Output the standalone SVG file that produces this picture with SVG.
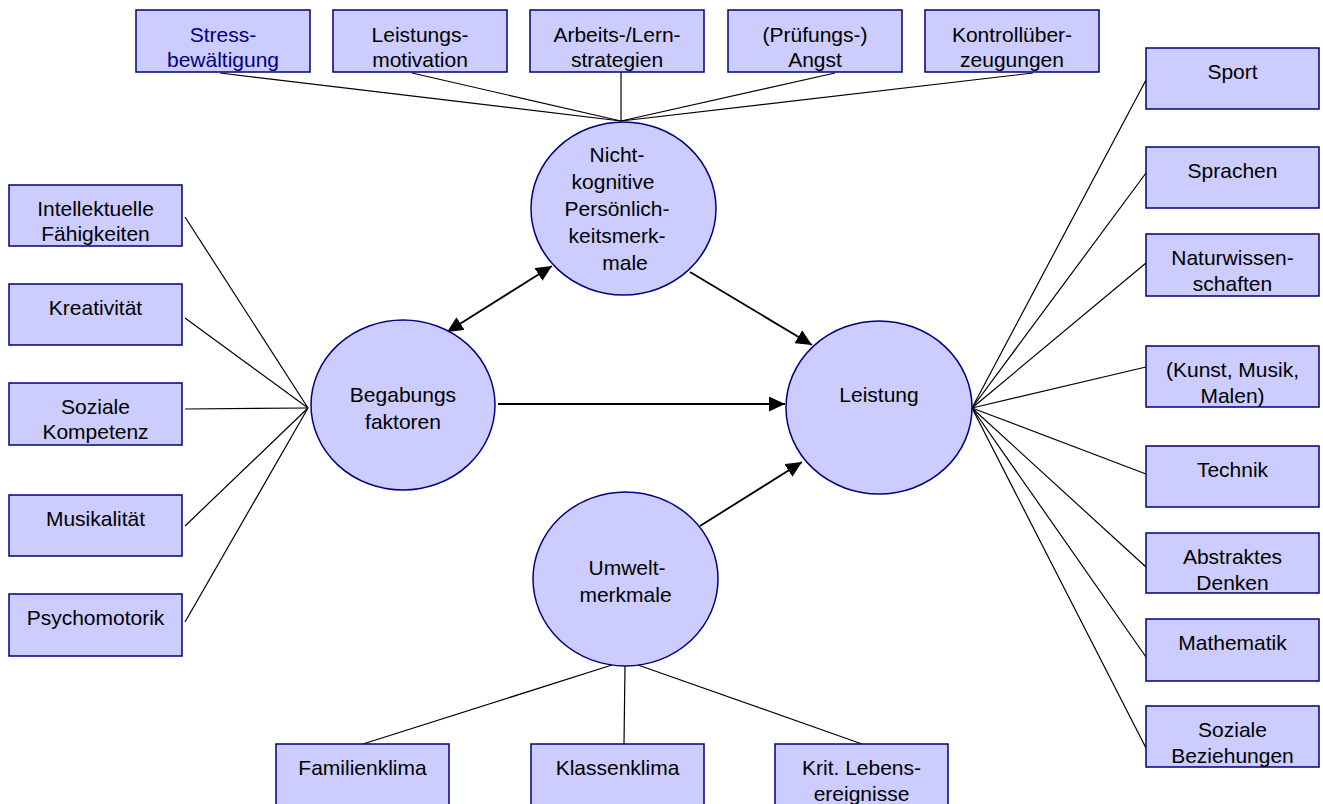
<svg xmlns="http://www.w3.org/2000/svg" width="1323" height="804" viewBox="0 0 1323 804">
<style>
.box{fill:#CCCCFF;stroke:#000080;stroke-width:1.5}
.ell{fill:#CCCCFF;stroke:#000080;stroke-width:1.5}
text{font-family:"Liberation Sans",Arial,sans-serif;font-size:21px;fill:#000;text-anchor:middle}
.navy{fill:#000080}
.ln{stroke:#000;stroke-width:1.2;fill:none}
.ar{stroke:#000;stroke-width:1.8;fill:none}
</style>
<defs>
<marker id="ah" markerUnits="userSpaceOnUse" markerWidth="17" markerHeight="15" refX="16" refY="7.5" orient="auto-start-reverse" viewBox="0 0 17 15">
<path d="M0,0 L16,7.5 L0,15 z" fill="#000"/>
</marker>
</defs>
<rect width="1323" height="804" fill="#fff"/>
<g id="connectors">
<line class="ln" x1="220" y1="73" x2="621" y2="121"/>
<line class="ln" x1="412" y1="73" x2="621" y2="121"/>
<line class="ln" x1="621" y1="72" x2="621" y2="121"/>
<line class="ln" x1="835" y1="73" x2="621" y2="121"/>
<line class="ln" x1="1033" y1="73" x2="621" y2="121"/>
<line class="ln" x1="185" y1="217" x2="308" y2="408"/>
<line class="ln" x1="185" y1="318" x2="308" y2="408"/>
<line class="ln" x1="185" y1="409" x2="308" y2="408"/>
<line class="ln" x1="185" y1="526" x2="308" y2="408"/>
<line class="ln" x1="185" y1="622" x2="308" y2="408"/>
<line class="ln" x1="1146" y1="80" x2="972" y2="408"/>
<line class="ln" x1="1146" y1="173" x2="972" y2="408"/>
<line class="ln" x1="1146" y1="263" x2="972" y2="408"/>
<line class="ln" x1="1146" y1="367" x2="972" y2="408"/>
<line class="ln" x1="1146" y1="474" x2="972" y2="408"/>
<line class="ln" x1="1146" y1="567" x2="972" y2="408"/>
<line class="ln" x1="1146" y1="657" x2="972" y2="408"/>
<line class="ln" x1="1146" y1="748" x2="972" y2="408"/>
<line class="ln" x1="363" y1="744" x2="612" y2="665"/>
<line class="ln" x1="624" y1="744" x2="625" y2="666"/>
<line class="ln" x1="862" y1="744" x2="638" y2="665"/>
<line class="ar" x1="498" y1="404" x2="785" y2="404" marker-end="url(#ah)"/>
<line class="ar" x1="447" y1="332" x2="552" y2="266" marker-start="url(#ah)" marker-end="url(#ah)"/>
<line class="ar" x1="690" y1="272" x2="812" y2="345" marker-end="url(#ah)"/>
<line class="ar" x1="700" y1="526" x2="802" y2="462" marker-end="url(#ah)"/>
</g>
<g id="n-stress"><rect class="box" x="136" y="10" width="174" height="62"/><text class="navy" x="223" y="42">Stress-</text><text class="navy" x="223" y="67">bewältigung</text></g>
<g id="n-leistungsmotivation"><rect class="box" x="333" y="10" width="174" height="62"/><text x="420" y="42">Leistungs-</text><text x="420" y="67">motivation</text></g>
<g id="n-arbeits"><rect class="box" x="530" y="10" width="174" height="62"/><text x="617" y="42">Arbeits-/Lern-</text><text x="617" y="67">strategien</text></g>
<g id="n-angst"><rect class="box" x="728" y="10" width="174" height="62"/><text x="815" y="42">(Prüfungs-)</text><text x="815" y="67">Angst</text></g>
<g id="n-kontroll"><rect class="box" x="925" y="10" width="174" height="62"/><text x="1012" y="42">Kontrollüber-</text><text x="1012" y="67">zeugungen</text></g>
<g id="n-intellekt"><rect class="box" x="9" y="185" width="173" height="61"/><text x="95.5" y="216">Intellektuelle</text><text x="95.5" y="241">Fähigkeiten</text></g>
<g id="n-kreativ"><rect class="box" x="9" y="284" width="173" height="61"/><text x="95.5" y="315">Kreativität</text></g>
<g id="n-sozkomp"><rect class="box" x="9" y="383" width="173" height="62"/><text x="95.5" y="414">Soziale</text><text x="95.5" y="439">Kompetenz</text></g>
<g id="n-musik"><rect class="box" x="9" y="495" width="173" height="61"/><text x="95.5" y="526">Musikalität</text></g>
<g id="n-psycho"><rect class="box" x="9" y="594" width="173" height="62"/><text x="95.5" y="625">Psychomotorik</text></g>
<g id="n-sport"><rect class="box" x="1146" y="48" width="173" height="61"/><text x="1232.5" y="79">Sport</text></g>
<g id="n-sprachen"><rect class="box" x="1146" y="147" width="173" height="61"/><text x="1232.5" y="178">Sprachen</text></g>
<g id="n-natur"><rect class="box" x="1146" y="234" width="173" height="62"/><text x="1232.5" y="265">Naturwissen-</text><text x="1232.5" y="291">schaften</text></g>
<g id="n-kunst"><rect class="box" x="1146" y="346" width="173" height="61"/><text x="1232.5" y="377">(Kunst, Musik,</text><text x="1232.5" y="403">Malen)</text></g>
<g id="n-technik"><rect class="box" x="1146" y="446" width="173" height="61"/><text x="1232.5" y="477">Technik</text></g>
<g id="n-abstrakt"><rect class="box" x="1146" y="533" width="173" height="60"/><text x="1232.5" y="564">Abstraktes</text><text x="1232.5" y="590">Denken</text></g>
<g id="n-mathe"><rect class="box" x="1146" y="619" width="173" height="62"/><text x="1232.5" y="650">Mathematik</text></g>
<g id="n-sozbez"><rect class="box" x="1146" y="706" width="173" height="61"/><text x="1232.5" y="737">Soziale</text><text x="1232.5" y="763">Beziehungen</text></g>
<g id="n-familie"><rect class="box" x="276" y="744" width="173" height="62"/><text x="362.5" y="775">Familienklima</text></g>
<g id="n-klasse"><rect class="box" x="531" y="744" width="173" height="62"/><text x="617.5" y="775">Klassenklima</text></g>
<g id="n-krit"><rect class="box" x="775" y="744" width="173" height="62"/><text x="861.5" y="775">Krit. Lebens-</text><text x="861.5" y="801">ereignisse</text></g>
<g id="n-nicht"><ellipse class="ell" cx="623.5" cy="208.5" rx="92.5" ry="86.5"/><text x="617" y="162">Nicht-</text><text x="613" y="189">kognitive</text><text x="617" y="216">Persönlich-</text><text x="617" y="243">keitsmerk-</text><text x="625" y="270">male</text></g>
<g id="n-begabung"><ellipse class="ell" cx="403" cy="405" rx="92" ry="85"/><text x="403" y="402">Begabungs</text><text x="403" y="429">faktoren</text></g>
<g id="n-leistung"><ellipse class="ell" cx="879" cy="407.5" rx="93" ry="86.5"/><text x="879" y="402">Leistung</text></g>
<g id="n-umwelt"><ellipse class="ell" cx="625.5" cy="579" rx="92.5" ry="87"/><text x="627" y="575">Umwelt-</text><text x="625.5" y="602">merkmale</text></g>
</svg>
